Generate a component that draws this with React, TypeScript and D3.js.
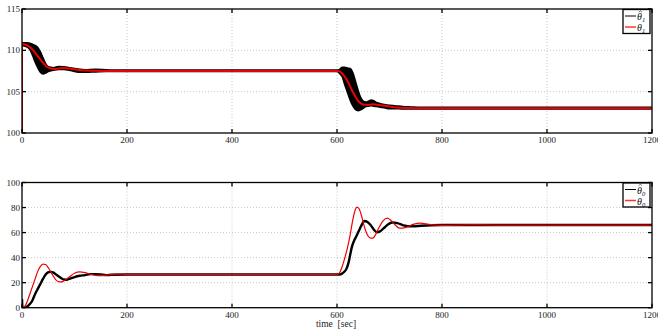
import React from "react";
import * as d3 from "d3";

// ---- data ----
const xTicks = [0, 200, 400, 600, 800, 1000, 1200];
const topYTicks = [100, 105, 110, 115];
const botYTicks = [0, 20, 40, 60, 80, 100];

// top: theta_1 (red)
const top1T = [0, 0, 10, 20, 30, 40, 50, 60, 70, 80, 90, 100, 120, 150, 600, 605, 610, 620, 630, 640, 650, 660, 670, 680, 690, 700, 720, 750, 1200];
const top1V = [100, 110.8, 110.6, 110.1, 109.3, 108.5, 107.9, 107.75, 107.8, 107.85, 107.8, 107.7, 107.55, 107.5, 107.5, 107.45, 107.2, 106.3, 105.0, 103.9, 103.45, 103.4, 103.48, 103.4, 103.3, 103.2, 103.05, 103.0, 103.0];

// top: theta_1 hat (black band: low / high envelope)
const top1HatT = [0, 10, 15, 20, 25, 30, 35, 40, 45, 50, 60, 70, 80, 90, 100, 110, 120, 140, 160, 180, 600, 605, 610, 615, 620, 625, 630, 635, 640, 645, 650, 655, 660, 665, 670, 675, 680, 690, 700, 710, 725, 740, 760, 780, 1200];
const top1HatLow = [110.6, 110.4, 110.1, 109.4, 108.6, 107.9, 107.35, 107.15, 107.25, 107.45, 107.6, 107.7, 107.7, 107.6, 107.45, 107.35, 107.35, 107.4, 107.45, 107.45, 107.45, 107.2, 106.8, 105.8, 104.9, 104.0, 103.3, 102.85, 102.7, 102.8, 103.0, 103.2, 103.25, 103.3, 103.25, 103.2, 103.15, 103.05, 102.95, 102.95, 102.9, 102.9, 102.9, 102.9, 102.9];
const top1HatHigh = [110.9, 110.9, 110.85, 110.75, 110.6, 110.35, 109.8, 109.1, 108.4, 108.0, 107.9, 108.05, 108.0, 107.9, 107.8, 107.7, 107.65, 107.7, 107.65, 107.6, 107.6, 107.7, 107.95, 107.95, 107.85, 107.8, 107.3, 106.3, 105.2, 104.3, 103.85, 103.75, 103.85, 104.0, 103.9, 103.7, 103.6, 103.45, 103.35, 103.3, 103.2, 103.15, 103.1, 103.1, 103.1];

// bottom: theta_0 (red)
const bot0T = [0, 5, 10, 15, 20, 25, 30, 35, 40, 45, 50, 55, 60, 65, 70, 75, 80, 90, 100, 110, 120, 130, 140, 150, 160, 170, 180, 200, 600, 605, 610, 615, 620, 625, 630, 635, 638, 642, 647, 652, 658, 663, 668, 673, 680, 688, 696, 702, 710, 719, 730, 745, 759, 775, 800, 850, 900, 1200];
const bot0V = [0, 1, 5, 11, 17, 23, 29, 33, 34.8, 34.5, 32, 28.5, 25, 22, 20.8, 20.6, 21.5, 24.5, 27.5, 28.6, 28, 26.8, 25.8, 25.5, 26, 26.5, 26.8, 26.6, 26.6, 28, 33, 40, 48, 58, 70, 78.5, 80.3, 79, 73, 65, 58, 55.7, 55.5, 58, 64, 69.5, 71.5, 70, 66.5, 63.5, 64, 66.5, 67.5, 66.5, 65.8, 66.2, 66, 66];

// bottom: theta_0 hat (black)
const bot0HatT = [0, 1, 5, 10, 15, 20, 25, 30, 35, 40, 45, 50, 55, 60, 65, 70, 75, 80, 85, 90, 100, 110, 120, 130, 140, 150, 160, 170, 200, 600, 605, 612, 618, 622, 625, 628, 632, 638, 644, 648, 652, 658, 664, 670, 676, 682, 689, 697, 705, 715, 725, 735, 745, 760, 800, 1200];
const bot0HatV = [7, 0, 0, 1, 3, 6, 11, 15, 19, 23, 26.5, 28.3, 28.6, 28, 26.5, 25, 23.5, 22.5, 22.3, 23, 24.5, 25.5, 26, 26.8, 26.8, 26.5, 26, 26.3, 26.5, 26.5, 26.5, 28, 31, 36, 42, 48, 53, 58, 63.5, 67, 69.3, 68.5, 66, 62.5, 60.3, 61, 63.5, 66.5, 68, 67.5, 66, 65, 65, 65.5, 66, 66];

const W = 658;
const H = 330;
const FONT = "Liberation Serif, Times New Roman, Times, serif";

type PanelProps = {
  top: number;
  bottom: number;
  yDomain: [number, number];
  yTicks: number[];
  children: (x: d3.ScaleLinear<number, number>, y: d3.ScaleLinear<number, number>) => React.ReactNode;
  legend: string;
  showXLabel: boolean;
};

const L = 22;
const R = 652;

function Panel({ top, bottom, yDomain, yTicks, children, legend, showXLabel }: PanelProps) {
  const x = d3.scaleLinear().domain([0, 1200]).range([L, R]);
  const y = d3.scaleLinear().domain(yDomain).range([bottom, top]);
  const tl = 4;
  const clipId = `clip-${Math.round(top)}`;
  return (
    <g>
      <defs>
        <clipPath id={clipId}>
          <rect x={L} y={top} width={R - L} height={bottom - top} />
        </clipPath>
      </defs>
      {/* grid */}
      {xTicks.slice(1, -1).map((t) => (
        <line key={"gx" + t} x1={x(t)} x2={x(t)} y1={top} y2={bottom} stroke="#bbb" strokeWidth={0.8} strokeDasharray="1,2" />
      ))}
      {yTicks.slice(1, -1).map((t) => (
        <line key={"gy" + t} x1={L} x2={R} y1={y(t)} y2={y(t)} stroke="#bbb" strokeWidth={0.8} strokeDasharray="1,2" />
      ))}
      <g clipPath={`url(#${clipId})`}>{children(x, y)}</g>
      {/* frame */}
      <rect x={L} y={top} width={R - L} height={bottom - top} fill="none" stroke="#000" strokeWidth={1.3} />
      {/* ticks */}
      {xTicks.map((t) => (
        <g key={"tx" + t}>
          <line x1={x(t)} x2={x(t)} y1={bottom} y2={bottom - tl} stroke="#000" strokeWidth={1.3} />
          <line x1={x(t)} x2={x(t)} y1={top} y2={top + tl} stroke="#000" strokeWidth={1.3} />
          <text x={x(t)} y={bottom + 10} fontSize={9} fontFamily={FONT} textAnchor="middle" fill="#222">
            {t}
          </text>
        </g>
      ))}
      {yTicks.map((t) => (
        <g key={"ty" + t}>
          <line x1={L} x2={L + tl} y1={y(t)} y2={y(t)} stroke="#000" strokeWidth={1.3} />
          <line x1={R} x2={R - tl} y1={y(t)} y2={y(t)} stroke="#000" strokeWidth={1.3} />
          <text x={L - 2} y={y(t) + 3} fontSize={9} fontFamily={FONT} textAnchor="end" fill="#222">
            {t}
          </text>
        </g>
      ))}
      {/* legend */}
      <g>
        <rect x={623} y={top + 0.5} width={27} height={24} fill="#fff" stroke="#000" strokeWidth={1.3} />
        <line x1={625} x2={636} y1={top + 7} y2={top + 7} stroke="#000" strokeWidth={1} />
        <line x1={625} x2={636} y1={top + 18} y2={top + 18} stroke="#f33" strokeWidth={1.5} />
        <text x={637} y={top + 11} fontSize={10} fontFamily={FONT} fontStyle="italic" fill="#111">
          θ<tspan fontSize={6.5} dy={2}>{legend}</tspan>
        </text>
        <path
          d={`M${638.6},${top + 3.2} L${640.3},${top + 1.8} L${642},${top + 3.2}`}
          fill="none"
          stroke="#111"
          strokeWidth={0.6}
        />
        <text x={637} y={top + 22} fontSize={10} fontFamily={FONT} fontStyle="italic" fill="#111">
          θ<tspan fontSize={6.5} dy={2}>{legend}</tspan>
        </text>
      </g>
      {showXLabel && (
        <text x={336} y={327} fontSize={9.5} fontFamily={FONT} textAnchor="middle" fill="#222">
          {"time\u00a0\u00a0[sec]"}
        </text>
      )}
    </g>
  );
}

export default function App() {
  return (
    <svg width={W} height={H} style={{ position: "absolute", left: 0, top: 0, background: "#fff" }}>
      <Panel top={9} bottom={133} yDomain={[100, 115]} yTicks={topYTicks} legend="1" showXLabel={false}>
        {(x, y) => {
          const area = d3
            .area<number>()
            .x((i) => x(top1HatT[i]))
            .y0((i) => y(top1HatLow[i]))
            .y1((i) => y(top1HatHigh[i]))
            .curve(d3.curveMonotoneX);
          const idx = top1HatT.map((_, i) => i);
          const line = d3
            .line<number>()
            .x((i) => x(top1T[i]))
            .y((i) => y(top1V[i]))
            .curve(d3.curveMonotoneX);
          return (
            <>
              <path d={area(idx) || ""} fill="#000" stroke="#000" strokeWidth={1.6} />
              <path d={line(top1T.map((_, i) => i)) || ""} fill="none" stroke="#e00" strokeWidth={2} />
            </>
          );
        }}
      </Panel>
      <Panel top={182.5} bottom={307.7} yDomain={[0, 100]} yTicks={botYTicks} legend="0" showXLabel={true}>
        {(x, y) => {
          const lineHat = d3
            .line<number>()
            .x((i) => x(bot0HatT[i]))
            .y((i) => y(bot0HatV[i]))
            .curve(d3.curveMonotoneX);
          const line = d3
            .line<number>()
            .x((i) => x(bot0T[i]))
            .y((i) => y(bot0V[i]))
            .curve(d3.curveMonotoneX);
          return (
            <>
              <path d={lineHat(bot0HatT.map((_, i) => i)) || ""} fill="none" stroke="#000" strokeWidth={2.4} />
              <path d={line(bot0T.map((_, i) => i)) || ""} fill="none" stroke="#e00" strokeWidth={1.2} />
            </>
          );
        }}
      </Panel>
    </svg>
  );
}
